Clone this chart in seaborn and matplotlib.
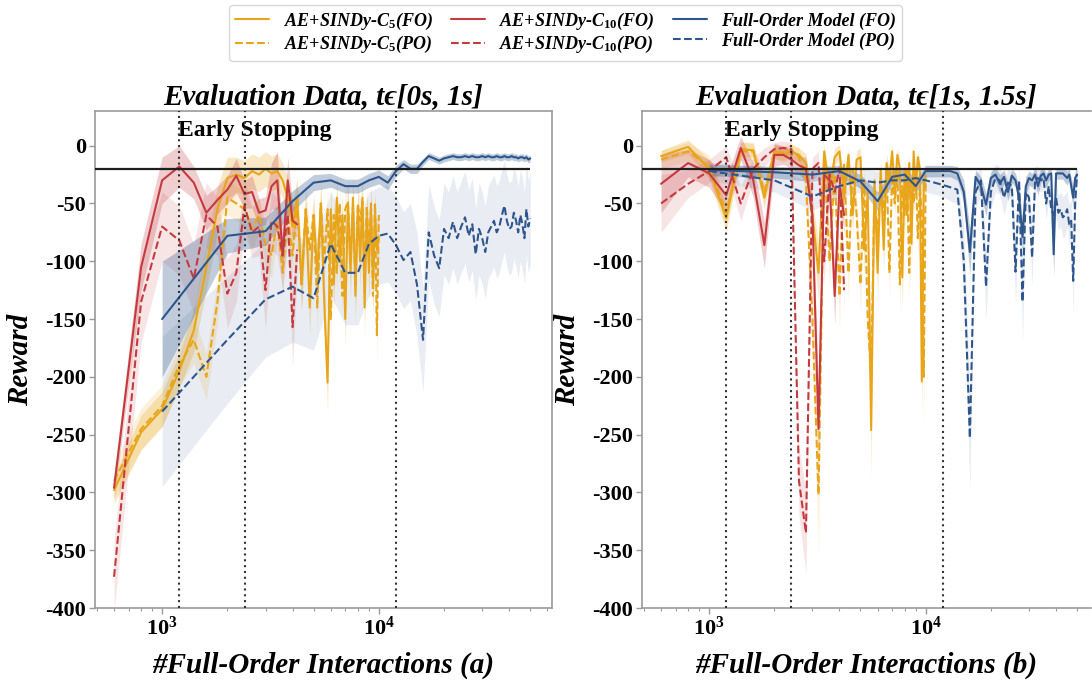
import matplotlib
matplotlib.use("Agg")
import matplotlib.pyplot as plt
import seaborn as sns
from matplotlib.lines import Line2D
from matplotlib.font_manager import FontProperties

# ---------------------------------------------------------------- data
# evaluation steps (number of full-order interactions)
steps_c5 = list(range(600, 10001, 200))
steps_c10 = list(range(600, 4201, 200))
steps_full = list(range(1000, 50001, 1000))

# ---- (a) evaluation on t in [0s, 1s]
a_c5_fo = [-298, -248, -228, -195, -160, -105, -55, -28,
           -25, -28, -22, -25, -20, -24, -22, -30, -45,
           -70, -45, -120, -55, -140, -60, -110, -50, -135, -205,
           -55, -120, -45, -100, -60, -150, -50, -110, -45, -130,
           -55, -100, -45, -140, -60, -110, -50, -120, -60, -90,
           -80]
a_c5_fo_sd = [12, 15, 15, 15, 18, 20, 20, 18, 15, 15,
              15, 15, 15, 15, 15, 15, 18, 20, 18, 25,
              18, 25, 18, 25, 18, 25, 25, 18, 25, 18,
              25, 18, 25, 18, 25, 18, 25, 18, 25, 18,
              25, 18, 25, 18, 25, 18, 25, 20]
a_c5_po = [-290, -245, -225, -190, -168, -200, -135, -45,
           -50, -55, -72, -60, -85, -95, -65, -110, -60,
           -95, -50, -120, -55, -90, -60, -140, -50, -100, -55,
           -150, -60, -110, -50, -130, -55, -48, -100, -52, -120,
           -50, -65, -48, -110, -52, -90, -55, -130, -50, -164,
           -60]
a_c5_po_sd = [15, 18, 18, 18, 20, 20, 20, 15, 15, 15,
              18, 15, 18, 20, 15, 20, 15, 20, 15, 22,
              15, 20, 15, 22, 15, 20, 15, 22, 15, 20,
              15, 22, 15, 15, 20, 15, 22, 15, 18, 15,
              20, 15, 20, 15, 22, 15, 25, 15]
a_c10_fo = [-296, -105, -30, -18, -32, -58, -47, -38, -26, -42,
            -40, -58, -56, -35, -30, -95, -30, -65, -68]
a_c10_fo_sd = [10, 20, 20, 18, 14, 15, 12, 12, 15, 12,
               14, 12, 12, 20, 25, 15, 20, 15, 10]
a_c10_po = [-373, -135, -70, -82, -115, -60, -70, -128, -110, -52,
            -75, -70, -125, -65, -70, -95, -60, -157, -90]
a_c10_po_sd = [30, 35, 30, 30, 30, 28, 25, 30, 25, 22,
               22, 25, 35, 25, 25, 30, 20, 35, 20]
a_full_fo = [-150, -78, -74, -48, -32, -30, -35, -35, -30, -27,
             -32, -22, -16, -20, -20, -14, -9, -11, -13, -11,
             -10, -9, -10, -10, -9, -10, -9, -10, -10, -9,
             -10, -9, -10, -10, -9, -10, -10, -9, -10, -10,
             -9, -10, -10, -11, -10, -10, -11, -10, -12, -11]
a_full_fo_sd = [50, 15, 12, 9, 7, 6, 6, 6, 6, 6,
                6, 5, 4, 4, 4, 3, 3, 3, 3, 3,
                3, 3, 3, 3, 3, 3, 3, 3, 3, 3,
                3, 3, 3, 3, 3, 3, 3, 3, 3, 3,
                3, 3, 3, 3, 3, 3, 3, 3, 3, 3]
a_full_po = [-230, -168, -133, -122, -132, -85, -110, -110, -85, -78,
             -76, -86, -99, -92, -120, -168, -75, -95, -106, -72,
             -80, -66, -80, -70, -62, -78, -68, -94, -72, -80,
             -92, -75, -70, -65, -75, -70, -60, -52, -65, -72,
             -70, -58, -65, -75, -60, -68, -80, -55, -70, -63]
a_full_po_sd = [65, 55, 50, 48, 45, 45, 45, 45, 45, 42,
                42, 42, 42, 42, 45, 45, 42, 42, 42, 40,
                40, 40, 40, 40, 40, 40, 40, 40, 40, 40,
                40, 40, 40, 40, 40, 40, 40, 40, 40, 40,
                40, 40, 40, 40, 40, 40, 40, 40, 40, 40]

# ---- (b) evaluation on t in [1s, 1.5s]
b_c5_fo = [-9, -1, -20, -63, -3, -4, -45, -5,
           -8, -5, -8, -15, -60, -110, -5, -40, -10,
           -5, -45, -8, -60, -12, -10, -90, -40, -246, -30,
           -110, -20, -90, -15, -30, -5, -40, -8, -20, -114,
           -20, -60, -15, -85, -5, -40, -10, -20, -204, -30,
           -35]
b_c5_fo_sd = [5, 6, 8, 12, 6, 6, 10, 6, 6, 6,
              6, 8, 15, 25, 6, 12, 8, 6, 12, 6,
              15, 8, 8, 20, 12, 40, 10, 25, 8, 20,
              8, 10, 6, 12, 6, 8, 30, 8, 15, 8,
              20, 6, 12, 6, 8, 35, 10, 10]
b_c5_po = [-12, -5, -18, -58, -5, -5, -40, -5,
           -6, -4, -10, -30, -150, -302, -10, -100, -20,
           -130, -15, -110, -20, -60, -120, -30, -150, -200, -40,
           -80, -30, -60, -20, -110, -25, -50, -20, -120, -35,
           -60, -20, -110, -30, -50, -20, -80, -35, -60, -200,
           -25]
b_c5_po_sd = [8, 8, 10, 12, 8, 8, 10, 6, 6, 6,
              8, 10, 30, 50, 8, 25, 8, 30, 8, 25,
              8, 15, 25, 10, 30, 40, 10, 20, 10, 15,
              8, 25, 8, 12, 8, 25, 10, 15, 8, 25,
              10, 12, 8, 20, 10, 15, 40, 10]
b_c10_fo = [-33, -15, -24, -43, -2, -30, -86, -8, -8, -12,
            -17, -20, -60, -245, -25, -30, -130, -35, -60]
b_c10_fo_sd = [25, 12, 12, 15, 10, 15, 20, 10, 8, 8,
               8, 10, 15, 30, 10, 10, 25, 10, 15]
b_c10_po = [-50, -33, -22, -10, -50, -20, -10, -3, -2, -3,
            -290, -335, -20, -15, -100, -25, -40, -20, -125]
b_c10_po_sd = [25, 12, 10, 10, 15, 10, 8, 6, 6, 6,
               30, 35, 10, 10, 20, 10, 10, 10, 20]
b_full_fo = [-21, -23, -25, -22, -31, -48, -27, -25, -35, -22,
             -22, -22, -22, -24, -40, -92, -27, -35, -51, -28,
             -25, -33, -27, -40, -26, -30, -45, -79, -35, -28,
             -30, -25, -35, -26, -24, -30, -25, -24, -94, -24,
             -24, -24, -24, -26, -28, -25, -35, -45, -28, -25]
b_full_fo_sd = [5, 5, 6, 5, 6, 8, 6, 6, 6, 5,
                5, 5, 5, 6, 10, 20, 6, 8, 10, 6,
                6, 8, 6, 8, 6, 6, 10, 15, 8, 6,
                6, 6, 8, 6, 5, 6, 5, 5, 20, 5,
                5, 5, 5, 6, 6, 5, 8, 10, 6, 6]
b_full_po = [-22, -30, -44, -35, -30, -32, -30, -30, -28, -30,
             -32, -34, -36, -38, -100, -253, -40, -30, -122, -40,
             -28, -30, -45, -32, -35, -109, -30, -135, -40, -45,
             -97, -30, -28, -30, -28, -50, -35, -55, -60, -45,
             -58, -55, -62, -60, -55, -68, -65, -117, -50, -25]
b_full_po_sd = [8, 10, 12, 10, 10, 10, 10, 10, 10, 10,
                10, 10, 12, 12, 30, 45, 15, 12, 30, 15,
                12, 12, 15, 12, 12, 30, 12, 35, 15, 15,
                25, 12, 10, 10, 10, 15, 12, 15, 18, 15,
                15, 15, 18, 18, 15, 18, 18, 30, 15, 10]

target_reward = -20
stop_points = [1200, 2400, 12000]
y_ticks = [0, -50, -100, -150, -200, -250, -300, -350, -400]

labels = ["AE+SINDy-C$_{\\mathit{5}}$(FO)", "AE+SINDy-C$_{\\mathit{5}}$(PO)",
          "AE+SINDy-C$_{\\mathit{10}}$(FO)", "AE+SINDy-C$_{\\mathit{10}}$(PO)",
          "Full-Order Model (FO)", "Full-Order Model (PO)"]

# ---------------------------------------------------------------- style
sns.set_theme(style="ticks")
plt.rcParams.update({
    "font.family": ["Liberation Serif", "DejaVu Serif"],
    "font.weight": "bold",
    "text.color": "black",
    "axes.labelcolor": "black",
    "axes.unicode_minus": False,
    "mathtext.fontset": "custom",
    "mathtext.rm": "Liberation Serif:bold",
    "mathtext.it": "Liberation Serif:bold:italic",
    "mathtext.bf": "Liberation Serif:bold",
})

C_ORANGE = "#E9A519"
C_RED = "#C43A3E"
C_BLUE = "#2F568C"
SPINE = "#9a9a9a"

fig = plt.figure(figsize=(10.92, 6.8), dpi=100)
ax_a = fig.add_axes([95 / 1092, 1 - 608 / 680, 457 / 1092, 497 / 680])
ax_b = fig.add_axes([642 / 1092, 1 - 608 / 680, 449 / 1092, 497 / 680])

panels = [
    (ax_a, "Evaluation Data, t\u03f5[0s, 1s]", "#Full-Order Interactions (a)", 63000,
     [(steps_c5, a_c5_fo, a_c5_fo_sd, C_ORANGE, "-", 0.25),
      (steps_c5, a_c5_po, a_c5_po_sd, C_ORANGE, "--", 0.15),
      (steps_c10, a_c10_fo, a_c10_fo_sd, C_RED, "-", 0.25),
      (steps_c10, a_c10_po, a_c10_po_sd, C_RED, "--", 0.13),
      (steps_full, a_full_fo, a_full_fo_sd, C_BLUE, "-", 0.3),
      (steps_full, a_full_po, a_full_po_sd, C_BLUE, "--", 0.1)]),
    (ax_b, "Evaluation Data, t\u03f5[1s, 1.5s]", "#Full-Order Interactions (b)", 58000,
     [(steps_c5, b_c5_fo, b_c5_fo_sd, C_ORANGE, "-", 0.25),
      (steps_c5, b_c5_po, b_c5_po_sd, C_ORANGE, "--", 0.15),
      (steps_c10, b_c10_fo, b_c10_fo_sd, C_RED, "-", 0.25),
      (steps_c10, b_c10_po, b_c10_po_sd, C_RED, "--", 0.13),
      (steps_full, b_full_fo, b_full_fo_sd, C_BLUE, "-", 0.3),
      (steps_full, b_full_po, b_full_po_sd, C_BLUE, "--", 0.1)]),
]

x_lo = 490
for ax, title, xlabel, x_hi, series in panels:
    for xs, ys, sd, color, ls, alpha in series:
        lower = [v - s for v, s in zip(ys, sd)]
        upper = [v + s for v, s in zip(ys, sd)]
        ax.fill_between(xs, lower, upper, color=color, alpha=alpha, lw=0)
        sns.lineplot(x=xs, y=ys, ax=ax, color=color, linestyle=ls,
                     linewidth=1.5, errorbar=None, sort=False)
    ax.set_xscale("log")
    ax.set_xlim(x_lo, x_hi)
    ax.set_ylim(-400, 30)
    ax.hlines(target_reward, x_lo, 50000, color="#1e1e1e", lw=1.6, zorder=5)
    for xv in stop_points:
        ax.axvline(xv, color="#333333", lw=1.5, ls=(0, (1, 1.8)), zorder=4)
    ax.text(1180, 13, "Early Stopping", fontsize=17, fontweight="bold",
            color="black", ha="left", va="center")
    ax.set_yticks(y_ticks)
    ax.set_yticklabels([str(v) for v in y_ticks])
    ax.tick_params(axis="both", which="major", labelsize=16, length=4,
                   width=1, color=SPINE, labelcolor="black", pad=2.5)
    ax.tick_params(axis="x", which="minor", length=2.5, width=0.8, color=SPINE)
    ax.set_title(title, fontsize=21, fontweight="bold", fontstyle="italic",
                 color="black", pad=5)
    ax.set_xlabel(xlabel, fontsize=21, fontweight="bold", fontstyle="italic",
                  color="black", labelpad=8)
    ax.set_ylabel("Reward", fontsize=21, fontweight="bold", fontstyle="italic",
                  color="black", labelpad=8)
    for sp in ax.spines.values():
        sp.set_color(SPINE)
        sp.set_linewidth(1.2)

ax_b.spines["right"].set_visible(False)

handles = [
    Line2D([], [], color=C_ORANGE, lw=1.5, ls="-"),
    Line2D([], [], color=C_ORANGE, lw=1.5, ls="--"),
    Line2D([], [], color=C_RED, lw=1.5, ls="-"),
    Line2D([], [], color=C_RED, lw=1.5, ls="--"),
    Line2D([], [], color=C_BLUE, lw=1.5, ls="-"),
    Line2D([], [], color=C_BLUE, lw=1.5, ls="--"),
]
leg = fig.legend(handles, labels, loc="upper center", bbox_to_anchor=(0.518, 0.998),
                 ncol=3, prop=FontProperties(family="Liberation Serif", weight="bold",
                                             style="italic", size=13),
                 handlelength=1.9, handletextpad=0.8, columnspacing=1.0,
                 labelspacing=0.15, borderpad=0.3, borderaxespad=0.2,
                 frameon=True, fancybox=True)
leg.get_frame().set_edgecolor("#cfcfcf")
leg.get_frame().set_linewidth(1.0)
for t in leg.get_texts():
    t.set_color("black")

fig.savefig("out.png", dpi=100)
